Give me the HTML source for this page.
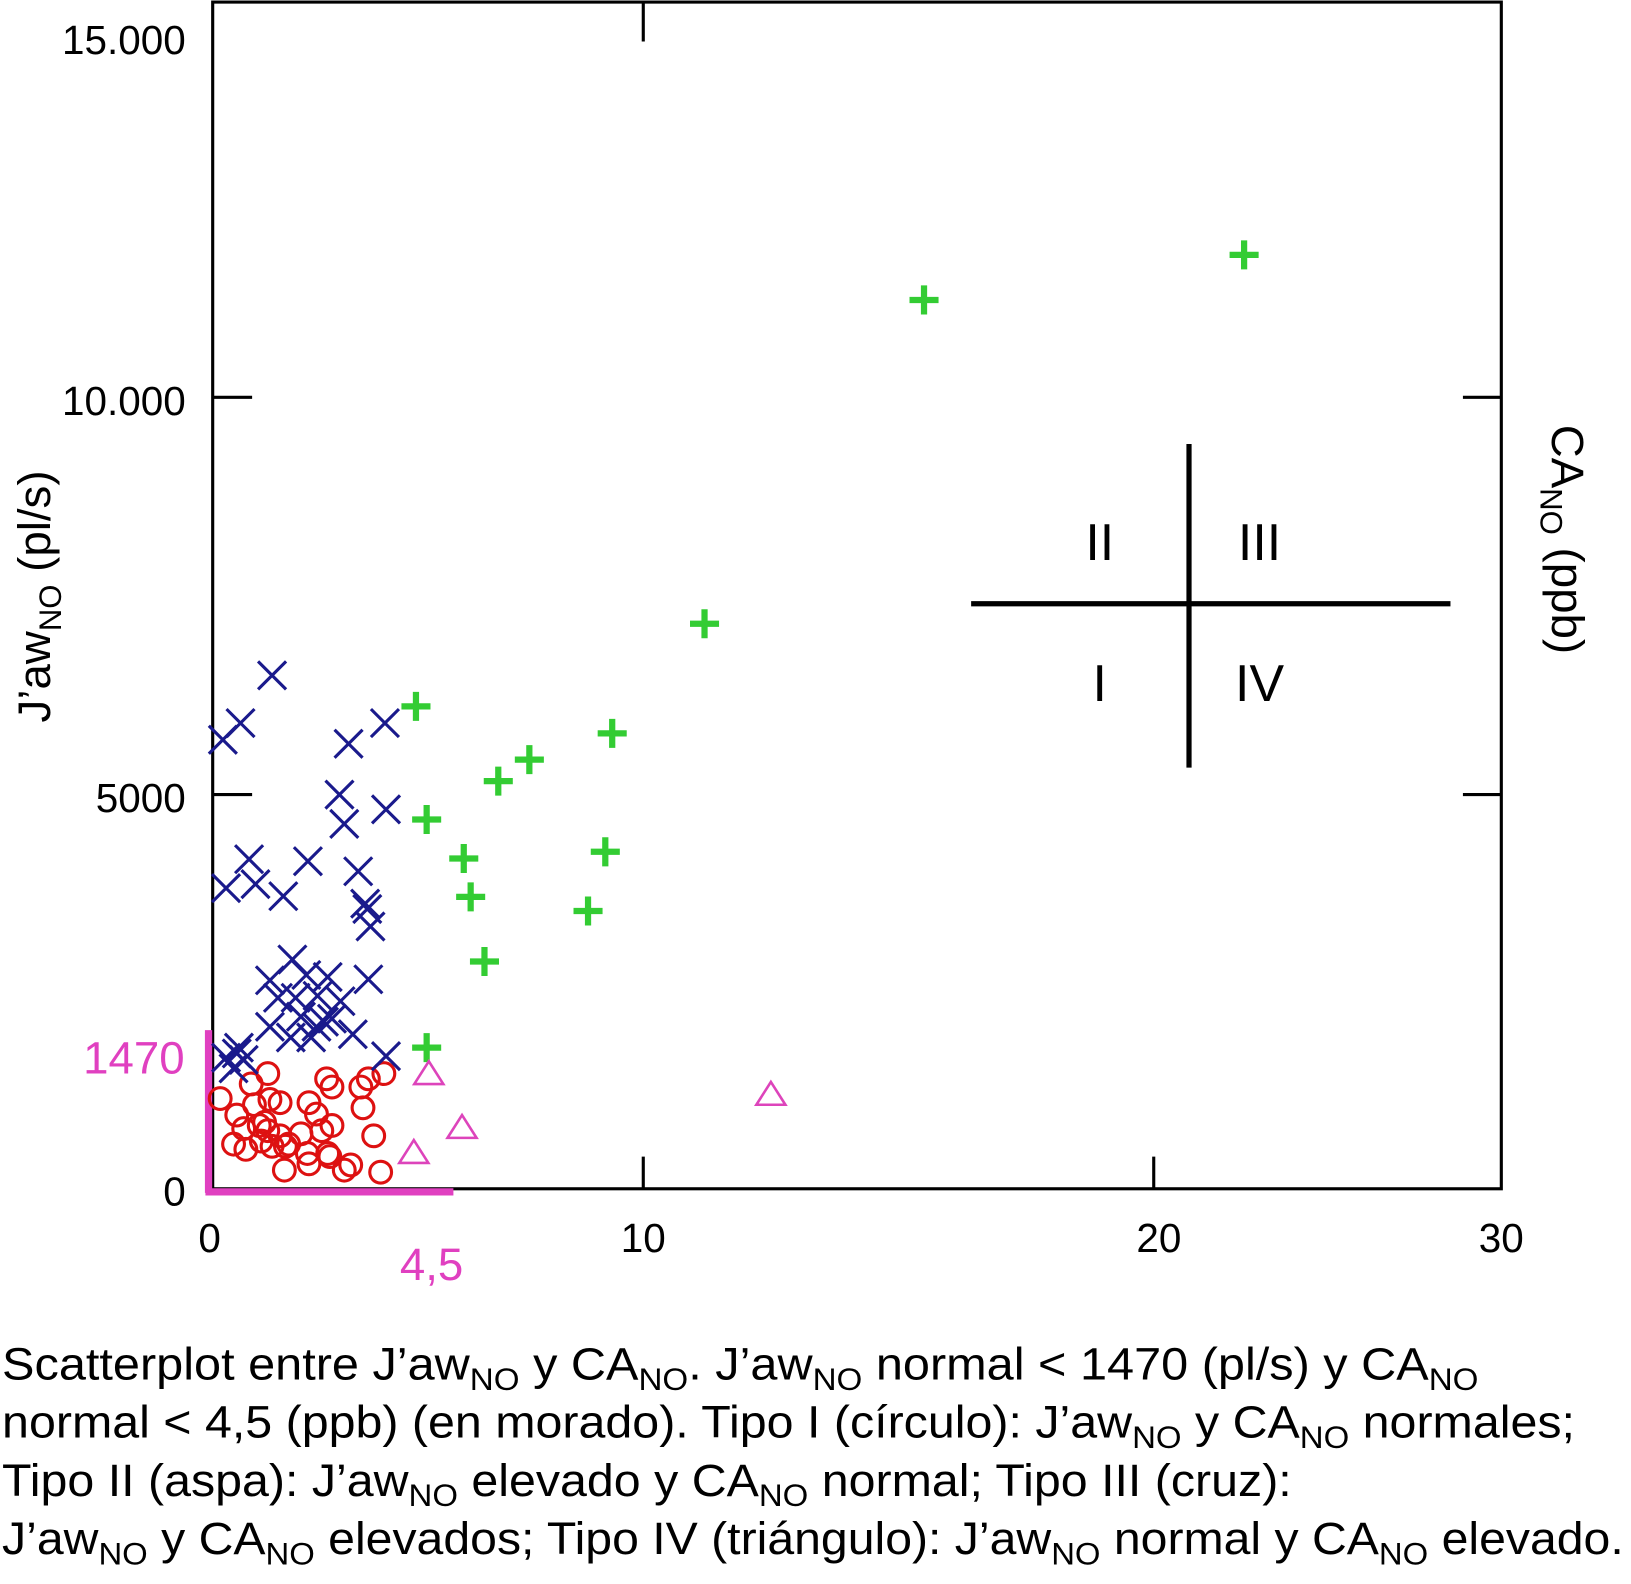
<!DOCTYPE html>
<html><head><meta charset="utf-8"><style>html,body{margin:0;padding:0;background:#fff}svg{display:block}text{font-family:"Liberation Sans",Arial,sans-serif}</style></head>
<body>
<svg id="chart" width="1631" height="1584" viewBox="0 0 1572 1527" preserveAspectRatio="none" xmlns="http://www.w3.org/2000/svg">
<g id="frame" stroke="#000" stroke-width="3" fill="none">
<rect x="205" y="2" width="1242" height="1144"/>
<line x1="620" y1="2" x2="620" y2="40"/>
<line x1="620" y1="1146" x2="620" y2="1115"/>
<line x1="1112" y1="1146" x2="1112" y2="1115"/>
<line x1="205" y1="383" x2="243" y2="383"/>
<line x1="205" y1="766" x2="243" y2="766"/>
<line x1="1447" y1="383" x2="1410" y2="383"/>
<line x1="1447" y1="766" x2="1410" y2="766"/>
</g>
<g font-size="39" text-anchor="end">
<text x="179" y="52">15.000</text><text x="179" y="400">10.000</text><text x="179" y="783">5000</text><text x="179" y="1162">0</text>
</g>
<g font-size="39" text-anchor="middle">
<text x="202" y="1207">0</text><text x="620" y="1207">10</text><text x="1117" y="1207">20</text><text x="1447" y="1207">30</text>
</g>
<g>
<line x1="201" y1="993" x2="201" y2="1150" stroke="#e040c0" stroke-width="7"/>
<line x1="198" y1="1149" x2="437" y2="1149" stroke="#e040c0" stroke-width="7"/>
<text x="178" y="1035" font-size="44" fill="#e040c0" text-anchor="end">1470</text>
<text x="416" y="1234" font-size="44" fill="#e040c0" text-anchor="middle">4,5</text>
</g>
<text font-size="44" transform="translate(48,575) rotate(-90)" text-anchor="middle">J’aw<tspan font-size="30" dy="11">NO</tspan><tspan dy="-11"> (pl/s)</tspan></text>
<text font-size="44" transform="translate(1496,520) rotate(90)" text-anchor="middle">CA<tspan font-size="30" dy="11">NO</tspan><tspan dy="-11"> (ppb)</tspan></text>
<g>
<line x1="936" y1="582" x2="1398" y2="582" stroke="#000" stroke-width="5"/>
<line x1="1146" y1="428" x2="1146" y2="740" stroke="#000" stroke-width="5"/>
<g font-size="50" text-anchor="middle"><text x="1060" y="540">II</text><text x="1214" y="540">III</text><text x="1060" y="676">I</text><text x="1214" y="676">IV</text></g>
</g>
<g id="marks"></g>
<g font-size="44">
<text x="2" y="1330" textLength="1423" lengthAdjust="spacingAndGlyphs">Scatterplot entre J’aw<tspan font-size="30" dy="10">NO</tspan><tspan dy="-10"> y CA</tspan><tspan font-size="30" dy="10">NO</tspan><tspan dy="-10">. J’aw</tspan><tspan font-size="30" dy="10">NO</tspan><tspan dy="-10"> normal &lt; 1470 (pl/s) y CA</tspan><tspan font-size="30" dy="10">NO</tspan></text>
<text x="2" y="1386" textLength="1516" lengthAdjust="spacingAndGlyphs">normal &lt; 4,5 (ppb) (en morado). Tipo I (círculo): J’aw<tspan font-size="30" dy="10">NO</tspan><tspan dy="-10"> y CA</tspan><tspan font-size="30" dy="10">NO</tspan><tspan dy="-10"> normales;</tspan></text>
<text x="2" y="1442" textLength="1243" lengthAdjust="spacingAndGlyphs">Tipo II (aspa): J’aw<tspan font-size="30" dy="10">NO</tspan><tspan dy="-10"> elevado y CA</tspan><tspan font-size="30" dy="10">NO</tspan><tspan dy="-10"> normal; Tipo III (cruz):</tspan></text>
<text x="2" y="1498" textLength="1563" lengthAdjust="spacingAndGlyphs">J’aw<tspan font-size="30" dy="10">NO</tspan><tspan dy="-10"> y CA</tspan><tspan font-size="30" dy="10">NO</tspan><tspan dy="-10"> elevados; Tipo IV (triángulo): J’aw</tspan><tspan font-size="30" dy="10">NO</tspan><tspan dy="-10"> normal y CA</tspan><tspan font-size="30" dy="10">NO</tspan><tspan dy="-10"> elevado.</tspan></text>
</g>
</svg>
<script>
const typeIx=[0.14,0.72,1.03,0.45,0.78,1.07,1.26,0.58,0.87,0.97,1.03,1.26,0.91,0.39,0.62,1.11,1.42,1.65,1.80,1.94,2.04,2.23,1.77,2.15,1.34,1.80,2.19,2.46,2.58,3.14,2.13,2.23,2.77,2.81,3.01,2.91,3.20,1.36];
const typeIy=[847,984,1081,692,789,838,808,565,594,623,545,497,448,419,370,399,419,516,808,701,545,594,331,331,175,234,302,175,224,156,1032,955,955,760,497,1032,1081,399];
const typeIIx=[0.19,0.52,1.11,2.54,3.22,2.37,2.46,3.24,0.68,0.25,0.80,1.32,1.78,2.72,2.85,2.95,2.89,2.91,1.49,1.07,1.75,2.15,1.22,1.55,1.96,2.39,1.65,2.08,2.23,1.94,2.62,1.07,1.46,1.84,3.24,0.25,0.45,0.58,0.39,0.49];
const typeIIy=[5690,5900,6500,5640,5900,5000,4565,4780,4040,3610,3670,3490,4010,3860,3380,3040,3300,2255,2550,2240,2320,2290,1980,1980,2010,1930,1700,1625,1670,1550,1450,1550,1420,1420,1245,1230,1270,1210,1130,1325];
const typeIIIx=[22.6,15.5,11.2,3.8,9.1,6.7,5.8,4.0,4.8,5.0,8.9,8.4,5.4,4.0];
const typeIIIy=[11990,11360,7150,6110,5770,5440,5170,4630,4050,3480,4150,3270,2520,1325];
const typeIVx=[4.04,4.75,3.76,12.5];
const typeIVy=[1080,575,340,886];
const xDom=[0,4.5,10,20,30], xRng=[205,437,620,1112,1447];
const yDom=[0,1470,5000,10000,15000], yRng=[1146,995,766,383,38];
function pw(v,d,r){for(let i=0;i<d.length-1;i++){if(v<=d[i+1]||i===d.length-2){return r[i]+(v-d[i])/(d[i+1]-d[i])*(r[i+1]-r[i]);}}}
const sx=v=>pw(v,xDom,xRng), sy=v=>pw(v,yDom,yRng);
const NS='http://www.w3.org/2000/svg', g=document.getElementById('marks');
function mk(tag,attrs){const e=document.createElementNS(NS,tag);for(const k in attrs)e.setAttribute(k,attrs[k]);g.appendChild(e);return e;}
typeIx.forEach((v,i)=>{const e=mk('circle',{cx:sx(v),cy:sy(typeIy[i]),r:10.5,fill:'none',stroke:'#dd1111','stroke-width':3});

});
typeIIx.forEach((v,i)=>{const x=sx(v),y=sy(typeIIy[i]),s=13.5;const e=mk('path',{d:`M${x-s},${y-s}L${x+s},${y+s}M${x-s},${y+s}L${x+s},${y-s}`,stroke:'#1a1a8c','stroke-width':3,fill:'none'});

});
typeIIIx.forEach((v,i)=>{const x=sx(v),y=sy(typeIIIy[i]),s=14;const e=mk('path',{d:`M${x-s},${y}L${x+s},${y}M${x},${y-s}L${x},${y+s}`,stroke:'#33cc33','stroke-width':6,fill:'none'});

});
typeIVx.forEach((v,i)=>{const x=sx(v),y=sy(typeIVy[i]);const e=mk('path',{d:`M${x},${y-12}L${x+14},${y+10}L${x-14},${y+10}Z`,stroke:'#dd44bb','stroke-width':2.5,fill:'none'});

});
</script>
</body></html>
